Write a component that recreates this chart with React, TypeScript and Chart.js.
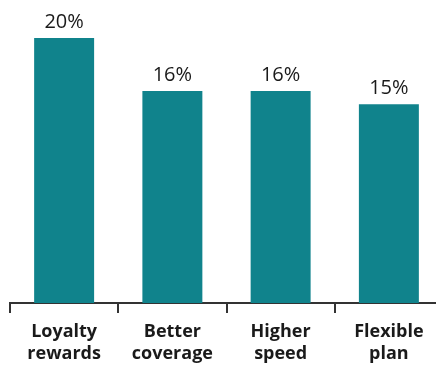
import React, { useEffect, useRef } from "react";
import { Chart, registerables } from "chart.js";

Chart.register(...registerables);

const categories: string[][] = [
  ["Loyalty", "rewards"],
  ["Better", "coverage"],
  ["Higher", "speed"],
  ["Flexible", "plan"],
];
const values: number[] = [20, 16, 16, 15];
const valueLabels: string[] = ["20%", "16%", "16%", "15%"];

const BAR_COLOR = "#10838c";
const TEXT_COLOR = "#1a1a1a";
const FONT = "'Open Sans', 'Noto Sans', sans-serif";

const valueLabelPlugin = {
  id: "valueLabels",
  afterDatasetsDraw(chart: any) {
    const ctx = chart.ctx;
    const meta = chart.getDatasetMeta(0);
    ctx.save();
    ctx.font = `400 20px ${FONT}`;
    ctx.fillStyle = TEXT_COLOR;
    ctx.textAlign = "center";
    ctx.textBaseline = "alphabetic";
    meta.data.forEach((bar: any, i: number) => {
      ctx.fillText(valueLabels[i], bar.x, bar.y - 10);
    });
    ctx.restore();
  },
};

export default function App() {
  const ref = useRef<HTMLCanvasElement | null>(null);
  useEffect(() => {
    if (!ref.current) return;
    const chart = new Chart(ref.current, {
      type: "bar",
      data: {
        labels: categories,
        datasets: [
          {
            data: values,
            backgroundColor: BAR_COLOR,
            borderWidth: 0,
            categoryPercentage: 1,
            barPercentage: 0.554,
          },
        ],
      },
      options: {
        animation: false,
        responsive: true,
        maintainAspectRatio: false,
        layout: { padding: { top: 38, left: 10, right: 0, bottom: 0 } },
        plugins: {
          legend: { display: false },
          tooltip: { enabled: false },
        },
        scales: {
          x: {
            offset: true,
            afterFit: (scale: any) => {
              scale.height = scale.height - 8;
            },
            grid: {
              offset: true,
              drawOnChartArea: false,
              drawTicks: true,
              tickLength: 10,
              color: "#333333",
              lineWidth: 2,
            },
            border: { display: true, color: "#333333", width: 2 },
            ticks: {
              color: TEXT_COLOR,
              font: { family: FONT, size: 18, weight: "bold", lineHeight: "22px" },
              padding: 8,
              maxRotation: 0,
              autoSkip: false,
            },
          },
          y: {
            display: false,
            min: 0,
            max: 20,
          },
        },
      },
      plugins: [valueLabelPlugin],
    });
    return () => chart.destroy();
  }, []);
  return (
    <div style={{ position: "fixed", left: 0, top: 0, width: 443, height: 365 }}>
      <canvas ref={ref} />
    </div>
  );
}
